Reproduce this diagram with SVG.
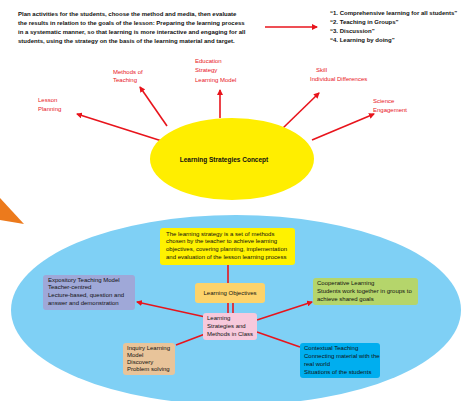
<svg xmlns="http://www.w3.org/2000/svg" width="463" height="401" viewBox="0 0 463 401">
<defs>
<marker id="ah" markerWidth="6" markerHeight="6" refX="5" refY="3" orient="auto" markerUnits="userSpaceOnUse"><path d="M0,0 L6,3 L0,6 z" fill="#e8141c"/></marker>
<style>
.t{font-family:"Liberation Sans",Arial,sans-serif;font-size:6px;fill:#111;}
.b{font-weight:bold;}
.r{font-family:"Liberation Sans",Arial,sans-serif;font-size:6px;fill:#e8141c;}
.c{stroke:#e8141c;stroke-width:1.6;fill:none;}
.box{stroke:none;}
</style>
</defs>
<rect width="463" height="401" fill="#ffffff"/>
<g id="intro">
<text class="t b" x="18" y="16">Plan activities for the students, choose the method and media, then evaluate</text>
<text class="t b" x="18" y="25">the results in relation to the goals of the lesson: Preparing the learning process</text>
<text class="t b" x="18" y="34">in a systematic manner, so that learning is more interactive and engaging for all</text>
<text class="t b" x="18" y="43">students, using the strategy on the basis of the learning material and target.</text>
</g>
<g id="list">
<text class="t b" x="330" y="15">“1. Comprehensive learning for all students”</text>
<text class="t b" x="330" y="24">“2. Teaching in Groups”</text>
<text class="t b" x="330" y="33">“3. Discussion”</text>
<text class="t b" x="330" y="42">“4. Learning by doing”</text>
</g>
<polygon points="0,198 24,224 0,220" fill="#ec7a1c"/>
<ellipse id="bg" cx="236" cy="310" rx="225" ry="95" fill="#7fd0f5"/>
<g id="connectors">
<line class="c" x1="265" y1="27" x2="317" y2="27" marker-end="url(#ah)"/>
<line class="c" x1="165" y1="142" x2="77" y2="114" marker-end="url(#ah)"/>
<line class="c" x1="167" y1="126" x2="140" y2="87" marker-end="url(#ah)"/>
<line class="c" x1="220" y1="118" x2="220" y2="90" marker-end="url(#ah)"/>
<line class="c" x1="283" y1="128" x2="319" y2="93" marker-end="url(#ah)"/>
<line class="c" x1="312" y1="140" x2="374" y2="114" marker-end="url(#ah)"/>
<line class="c" x1="228" y1="265" x2="228" y2="313"/>
<line class="c" x1="233" y1="313" x2="233" y2="303"/>
<line class="c" x1="210" y1="318" x2="137" y2="302" marker-end="url(#ah)"/>
<line class="c" x1="205" y1="334" x2="176" y2="345"/>
<line class="c" x1="257" y1="320" x2="312" y2="302" marker-end="url(#ah)"/>
<line class="c" x1="257" y1="332" x2="300" y2="347"/>
</g>
<g id="labels">
<text class="r" x="38" y="102">Lesson</text>
<text class="r" x="38" y="111">Planning</text>
<text class="r" x="113" y="74">Methods of</text>
<text class="r" x="113" y="82">Teaching</text>
<text class="r" x="195" y="63">Education</text>
<text class="r" x="195" y="72">Strategy</text>
<text class="r" x="195" y="82">Learning Model</text>
<text class="r" x="316" y="72">Skill</text>
<text class="r" x="310" y="81">Individual Differences</text>
<text class="r" x="373" y="103">Science</text>
<text class="r" x="373" y="112">Engagement</text>
</g>
<g id="center">
<ellipse cx="232" cy="159" rx="82" ry="41" fill="#ffee00"/>
<text class="t b" x="224" y="162" text-anchor="middle" style="font-size:6.5px">Learning Strategies Concept</text>
</g>
<g id="definition">
<rect class="box" x="160" y="228" width="135" height="37" rx="3" fill="#fff200"/>
<text class="t" x="166" y="236">The learning strategy is a set of methods</text>
<text class="t" x="166" y="243">chosen by the teacher to achieve learning</text>
<text class="t" x="166" y="251">objectives, covering planning, implementation</text>
<text class="t" x="166" y="259">and evaluation of the lesson learning process</text>
</g>
<g id="objectives">
<rect class="box" x="195" y="283" width="70" height="20" rx="3" fill="#fdd36b"/>
<text class="t" x="230" y="295" text-anchor="middle">Learning Objectives</text>
</g>
<g id="methods">
<rect class="box" x="203" y="313" width="54" height="27" rx="3" fill="#f7c9dc"/>
<text class="t" x="207" y="320">Learning</text>
<text class="t" x="207" y="328">Strategies and</text>
<text class="t" x="207" y="336">Methods in Class</text>
</g>
<g id="expository">
<rect class="box" x="43" y="275" width="92" height="35" rx="3" fill="#9fa8d8"/>
<text class="t" x="48" y="282">Expository Teaching Model</text>
<text class="t" x="48" y="289">Teacher-centred</text>
<text class="t" x="48" y="297">Lecture-based, question and</text>
<text class="t" x="48" y="305">answer and demonstration</text>
</g>
<g id="inquiry">
<rect class="box" x="123" y="343" width="52" height="32" rx="3" fill="#e8c49a"/>
<text class="t" x="127" y="350">Inquiry Learning</text>
<text class="t" x="127" y="357">Model</text>
<text class="t" x="127" y="364">Discovery</text>
<text class="t" x="127" y="371">Problem solving</text>
</g>
<g id="cooperative">
<rect class="box" x="313" y="278" width="105" height="27" rx="3" fill="#b5d56b"/>
<text class="t" x="317" y="285">Cooperative Learning</text>
<text class="t" x="317" y="293">Students work together in groups to</text>
<text class="t" x="317" y="301">achieve shared goals</text>
</g>
<g id="contextual">
<rect class="box" x="300" y="343" width="80" height="35" rx="3" fill="#00aeef"/>
<text class="t" x="304" y="350">Contextual Teaching</text>
<text class="t" x="304" y="358">Connecting material with the</text>
<text class="t" x="304" y="366">real world</text>
<text class="t" x="304" y="374">Situations of the students</text>
</g>
</svg>
